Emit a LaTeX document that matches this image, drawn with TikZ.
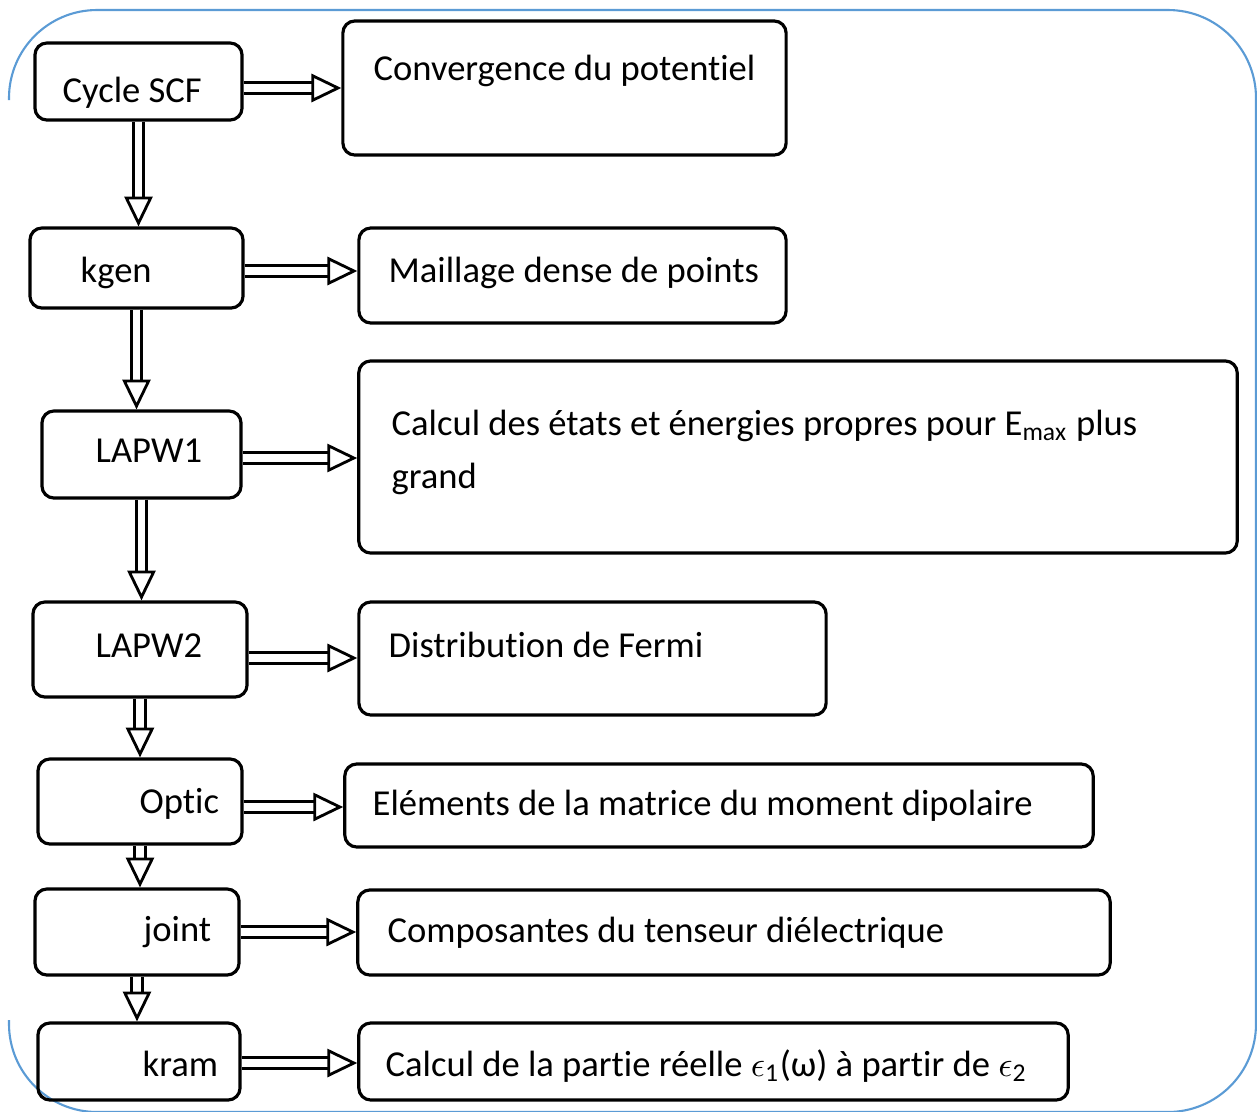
\documentclass[tikz,border=0pt]{standalone}
\usepackage{fontspec}
\setmainfont{Carlito}[Ligatures=NoCommon]
\usetikzlibrary{arrows.meta}
\definecolor{framecol}{RGB}{91,155,213}

\begin{document}
\begin{tikzpicture}[x=0.01cm, y=-0.01cm,
  box/.style={draw, rounded corners=0.12cm, line width=0.9pt, inner sep=0pt},
  txt/.style={anchor=base west, inner sep=0pt, align=left, font=\fontsize{10.4}{15}\selectfont},
  hollow/.style={double, double distance=2.2pt, line width=0.8pt,
    -{Triangle[open, length=8.5pt, width=8pt]}}]
  \useasboundingbox (0,0) rectangle (1257,1111);
  \draw[framecol, line width=0.6pt, rounded corners=0.88cm]
    (9,100) -- (9,10) -- (1256,10) -- (1256,1112) -- (9,1112) -- (9,1020);

  % programmes
  \node[box, minimum width=2.07cm, minimum height=0.77cm] (cyc) at (138.5,81.5) {};
  \node[box, minimum width=2.13cm, minimum height=0.80cm] (kgen) at (136.5,268) {};
  \node[box, minimum width=1.99cm, minimum height=0.87cm] (lapwa) at (141.5,454.5) {};
  \node[box, minimum width=2.14cm, minimum height=0.95cm] (lapwb) at (140,649.5) {};
  \node[box, minimum width=2.04cm, minimum height=0.85cm] (optic) at (140,801.5) {};
  \node[box, minimum width=2.04cm, minimum height=0.86cm] (joint) at (137,932) {};
  \node[box, minimum width=2.02cm, minimum height=0.77cm] (kram) at (139,1061.5) {};
  \node[txt] (cyc-t) at (62,102) {Cycle SCF};
  \node[txt] (kgen-t) at (80,282) {kgen};
  \node[txt] (lapwa-t) at (95,462) {LAPW1};
  \node[txt] (lapwb-t) at (95,657) {LAPW2};
  \node[txt] (optic-t) at (139,813) {Optic};
  \node[txt] (joint-t) at (143,941) {joint};
  \node[txt] (kram-t) at (142,1076) {kram};

  % resultats
  \node[box, minimum width=4.43cm, minimum height=1.34cm] (conv) at (564.5,88) {};
  \node[box, minimum width=4.27cm, minimum height=0.95cm] (mesh) at (572.5,275.5) {};
  \node[box, minimum width=8.78cm, minimum height=1.92cm] (eig) at (798,457) {};
  \node[box, minimum width=4.67cm, minimum height=1.13cm] (fermi) at (592.5,658.5) {};
  \node[box, minimum width=7.48cm, minimum height=0.83cm] (dip) at (719,805.5) {};
  \node[box, minimum width=7.52cm, minimum height=0.85cm] (diel) at (734,932.5) {};
  \node[box, minimum width=7.09cm, minimum height=0.77cm] (kk) at (713.5,1061.5) {};
  \node[txt] (conv-t) at (373,80) {Convergence du potentiel};
  \node[txt] (mesh-t) at (388,282) {Maillage dense de points};
  \node[txt] (eig-t) at (391,488) {Calcul des états et énergies propres pour E\textsubscript{max} plus\\grand};
  \node[txt] (fermi-t) at (388,657) {Distribution de Fermi};
  \node[txt] (dip-t) at (372,815) {Eléments de la matrice du moment dipolaire};
  \node[txt] (diel-t) at (387,942) {Composantes du tenseur diélectrique};
  \node[txt] (kk-t) at (385,1076) {Calcul de la partie réelle $\epsilon$\textsubscript{1}(ω) à partir de $\epsilon$\textsubscript{2}};

  \foreach \a/\b in {cyc/kgen, kgen/lapwa, lapwa/lapwb, lapwb/optic, optic/joint, joint/kram}
    \draw[hollow] (\a.south) -- (\a.south |- \b.north);
  \foreach \a/\b/\s in {cyc/conv/6.5, kgen/mesh/3, lapwa/eig/3.5, lapwb/fermi/8.5,
      optic/dip/5.5, joint/diel/0, kram/kk/1.5}
    \draw[hollow] ([yshift=-\s*0.01cm]\a.east) -- ([yshift=-\s*0.01cm]\a.east -| \b.west);
\end{tikzpicture}
\end{document}
